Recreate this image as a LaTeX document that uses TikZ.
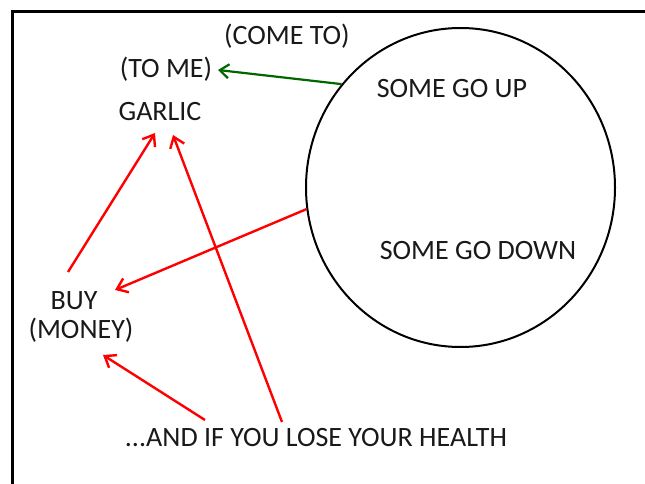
\documentclass[tikz,border=0pt]{standalone}
\usepackage{fontspec}
\setmainfont{Carlito}
\usepackage{tikz}
\usetikzlibrary{arrows.meta,calc,shapes.geometric}

\begin{document}
\begin{tikzpicture}[x=1pt,y=-1pt,
  lbl/.style={anchor=base,inner sep=0pt,text=black!90,font=\fontsize{28}{32}\selectfont},
  redarrow/.style={-{Straight Barb[length=10pt,width=15pt]},line width=2.4pt,red},
  greenarrow/.style={-{Straight Barb[length=9pt,width=14pt]},line width=2.2pt,green!40!black}]
  \useasboundingbox (0,0) rectangle (645,484);
  % Frame (cut off at right and bottom)
  \draw[line width=3pt] (12,500) -- (12,12) -- (660,12);
  % The big circle
  \node[draw,ellipse,line width=2pt,inner sep=0pt,minimum width=309pt,minimum height=319pt] (wheel) at (460.5,187.5) {};
  \node[lbl] (up) at (452,98) {SOME GO UP};
  \node[lbl] (down) at (478,259) {SOME GO DOWN};
  % Labels on the left
  \node[lbl] (cometo) at (287,45) {(COME TO)};
  \node[lbl] (tome) at (166,78) {(TO ME)};
  \node[lbl] (garlic) at (160,121) {GARLIC};
  \node[lbl] (buy) at (74,309) {BUY};
  \node[lbl] (money) at (81,338) {(MONEY)};
  \node[lbl] (health) at (316,446) {...AND IF YOU LOSE YOUR HEALTH};
  % Green arrow
  \draw[greenarrow] (wheel.139) -- ($(tome.base)+(52,-8)$);
  % Red arrows
  \draw[redarrow] ($(buy.base)+(-6,-37)$) -- ($(garlic.base)+(-5,12)$);
  \draw[redarrow] ($(health.base)+(-34,-24)$) -- ($(garlic.base)+(13,14)$);
  \draw[redarrow] (wheel.188) -- ($(buy.base)+(41,-19)$);
  \draw[redarrow] ($(health.base)+(-111,-26)$) -- ($(money.base)+(22,17)$);
\end{tikzpicture}
\end{document}
